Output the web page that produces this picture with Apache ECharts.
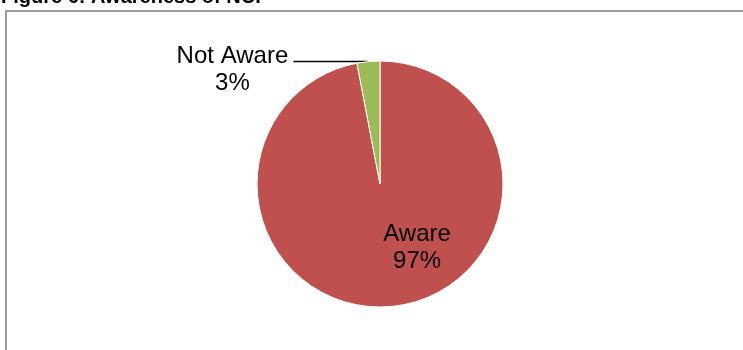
<!DOCTYPE html>
<html>
<head>
<meta charset="utf-8">
<title>Figure 6: Awareness of NCP</title>
<script src="https://cdn.jsdelivr.net/npm/echarts@6/dist/echarts.min.js"></script>
<style>
  html, body { margin: 0; padding: 0; background: #fff; }
  #chart { width: 743px; height: 350px; }
</style>
</head>
<body>
<div id="chart"></div>
<script>
// Awareness of NCP among respondents (percent)
const categories = ['Aware', 'Not Aware'];
const shares = [97, 3];
const sliceColors = ['#C0504D', '#9BBB59'];

const FONT = "Arial, 'Liberation Sans', sans-serif";
const LABEL_SIZE = 24;

const chart = echarts.init(document.getElementById('chart'), null, { renderer: 'canvas' });

// Two-line label (name over percent), each line centred in a fixed-width box
const centredRich = {
  t: { fontFamily: FONT, fontSize: LABEL_SIZE, lineHeight: 27, color: '#000', width: 112, align: 'center' }
};

const pieData = categories.map((name, i) => {
  const item = { name: name, value: shares[i], itemStyle: { color: sliceColors[i] } };
  if (name === 'Aware') {
    item.label = { position: 'inside', offset: [31, 0] };
    item.labelLine = { show: false };
  } else {
    item.label = {
      position: 'outside',
      formatter: '{t|{b}}\n{t|{d}%}',
      rich: centredRich,
      padding: [16, 0, 0, 0]
    };
    item.labelLine = { show: true, length: 0, length2: 75 };
  }
  return item;
});

chart.setOption({
  animation: false,
  backgroundColor: '#ffffff',
  title: {
    text: 'Figure 6: Awareness of NCP',
    left: 1,
    top: -13,
    padding: 0,
    textStyle: { fontFamily: FONT, fontSize: 20, fontWeight: 'bold', color: '#000' }
  },
  graphic: [{
    type: 'rect',
    silent: true,
    shape: { x: 6, y: 11, width: 800, height: 400 },
    style: { fill: 'none', stroke: '#9a9a9a', lineWidth: 2 }
  }],
  series: [{
    type: 'pie',
    center: [380, 184],
    radius: [0, 123],
    startAngle: 90,
    clockwise: true,
    avoidLabelOverlap: false,
    itemStyle: { borderColor: '#ffffff', borderWidth: 1 },
    label: {
      formatter: '{b}\n{d}%',
      fontFamily: FONT,
      fontSize: LABEL_SIZE,
      lineHeight: 27,
      color: '#000',
      distanceToLabelLine: 5
    },
    labelLine: {
      lineStyle: { color: '#000', width: 1.6 }
    },
    data: pieData
  }]
});
</script>
</body>
</html>
